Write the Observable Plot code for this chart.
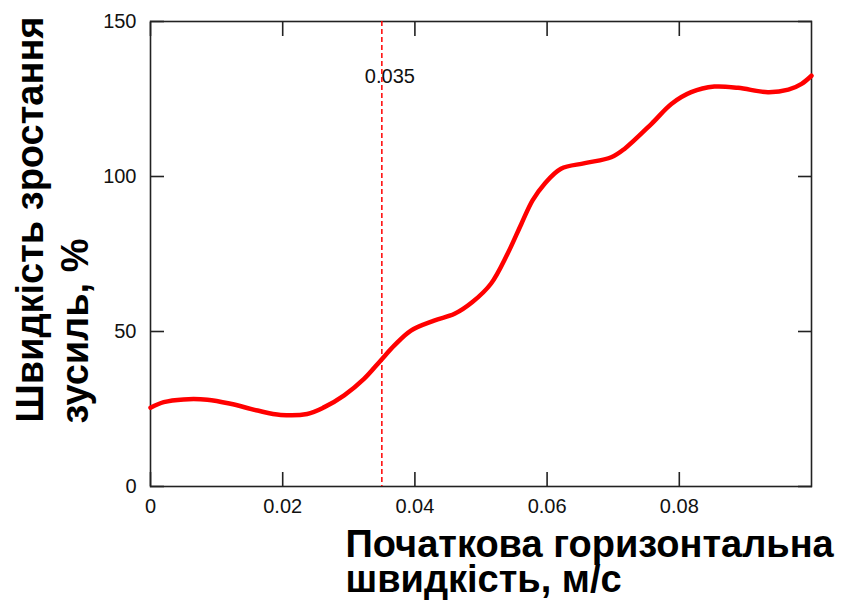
<!DOCTYPE html>
<html>
<head>
<meta charset="utf-8">
<script src="https://cdn.jsdelivr.net/npm/d3@7"></script>
<script src="https://cdn.jsdelivr.net/npm/@observablehq/plot@0.6"></script>
<style>
  html, body { margin: 0; padding: 0; background: #fff; }
  #chart { width: 846px; height: 607px; }
</style>
</head>
<body>
<div id="chart"></div>
<script>
// Initial horizontal velocity, m/s
const velocity = [0, 0.002, 0.005, 0.0086, 0.0121, 0.0162, 0.0197, 0.0237, 0.0263, 0.0293, 0.0323, 0.0348, 0.0369, 0.0394, 0.0429, 0.046, 0.0487, 0.0515, 0.054, 0.0561, 0.0578, 0.0596, 0.0621, 0.0657, 0.0697, 0.0717, 0.0758, 0.0788, 0.0818, 0.0853, 0.0889, 0.0934, 0.0965, 0.0985, 0.1];
// Rate of force growth, %
const growth = [25.4, 27.2, 28.1, 28.0, 26.7, 24.5, 23.1, 23.4, 25.6, 29.4, 34.7, 40.6, 45.5, 50.3, 53.5, 55.7, 59.5, 65.4, 75.0, 84.7, 92.3, 97.6, 102.5, 104.3, 106.2, 108.9, 117.0, 123.4, 127.2, 129.0, 128.6, 127.2, 128.0, 129.9, 132.5];
const xTicks = [0, 0.02, 0.04, 0.06, 0.08];
const yTicks = [0, 50, 100, 150];
const marker = [0.035];
const markerLabel = ["0.035"];
const xTitle = ["Початкова горизонтальна", "швидкість, м/с"];
const yTitle = ["Швидкість зростання", "зусиль, %"];

const data = velocity.map((v, i) => ({v, g: growth[i]}));
const tickFont = "Liberation Sans, Arial, sans-serif";
const titleFont = "Liberation Sans, Arial, sans-serif";
const tickLen = 14;
const axisColor = "#222";
const titleSize = 38;

const titleOpts = {frameAnchor: "bottom-left", textAnchor: "start", fontSize: titleSize, fontWeight: "bold", fontFamily: titleFont, fill: "#000"};
const blank = () => "";

const chart = Plot.plot({
  width: 846,
  height: 607,
  marginLeft: 150,
  marginRight: 35,
  marginTop: 21,
  marginBottom: 121,
  style: {fontFamily: tickFont, fontSize: "20px", color: "#111", background: "#fff"},
  x: {domain: [0, 0.1]},
  y: {domain: [0, 150]},
  marks: [
    // inward tick marks on all four sides (outward ticks shifted inside the frame)
    Plot.axisX({anchor: "bottom", ticks: xTicks, tickSize: tickLen, dy: -tickLen, tickFormat: blank, label: null, stroke: axisColor, strokeWidth: 1.6}),
    Plot.axisX({anchor: "top", ticks: xTicks, tickSize: tickLen, dy: tickLen, tickFormat: blank, label: null, stroke: axisColor, strokeWidth: 1.6}),
    Plot.axisY({anchor: "left", ticks: yTicks, tickSize: tickLen, dx: tickLen, tickFormat: blank, label: null, stroke: axisColor, strokeWidth: 1.6}),
    Plot.axisY({anchor: "right", ticks: yTicks, tickSize: tickLen, dx: -tickLen, tickFormat: blank, label: null, stroke: axisColor, strokeWidth: 1.6}),
    Plot.frame({stroke: axisColor, strokeWidth: 1.6}),
    Plot.axisX({anchor: "bottom", ticks: xTicks, tickSize: 0, tickPadding: 12, tickFormat: d => d === 0 ? "0" : String(d), label: null, fill: "#111"}),
    Plot.axisY({anchor: "left", ticks: yTicks, tickSize: 0, tickPadding: 14, label: null, fill: "#111"}),
    Plot.ruleX(marker, {stroke: "#ff0000", strokeWidth: 1.5, strokeDasharray: "5,3"}),
    Plot.text(markerLabel, {x: marker, frameAnchor: "top", dy: 55, textAnchor: "start", dx: -17, lineAnchor: "middle", fontSize: 20, fill: "#111"}),
    Plot.line(data, {x: "v", y: "g", stroke: "#ff0000", strokeWidth: 4.5, curve: "catmull-rom"}),
    Plot.text([xTitle.join("\n")], {...titleOpts, dx: 195, dy: 45, lineAnchor: "top", lineHeight: 0.93}),
    Plot.text([yTitle[0]], {...titleOpts, dx: -120, dy: -64, rotate: -90, lineAnchor: "middle"}),
    Plot.text([yTitle[1]], {...titleOpts, dx: -75, dy: -63, rotate: -90, lineAnchor: "middle"})
  ]
});
document.getElementById("chart").appendChild(chart);
</script>
</body>
</html>
